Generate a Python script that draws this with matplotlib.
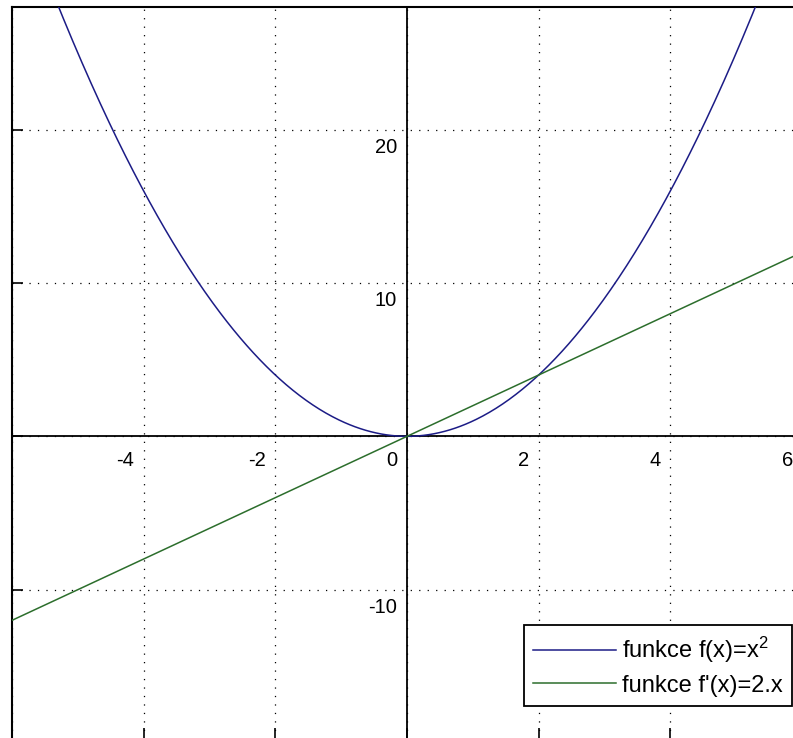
import matplotlib.pyplot as plt
import numpy as np

plt.rcParams['font.family'] = ['Liberation Sans', 'DejaVu Sans']
plt.rcParams['mathtext.default'] = 'regular'
plt.rcParams['lines.scale_dashes'] = False

# osa x, rozsahy a popisky
x_lim = [-6, 6]
y_lim = [-20, 28]
x_ticks = [-6, -4, -2, 0, 2, 4, 6]
y_ticks = [-20, -10, 0, 10, 20]
x_labels = ['-4', '-2', '0', '2', '4', '6']
x_label_pos = [-4, -2, 0, 2, 4, 6]
y_labels = ['20', '10', '-10']
y_label_pos = [20, 10, -10]

c_f = '#1c1c86'
c_df = '#2c6e2c'

fig = plt.figure(figsize=(7.93, 7.38), dpi=100)
ax = fig.add_axes([12/793, -5/738, 790/793, 736/738])
ax.set_xlim(x_lim)
ax.set_ylim(y_lim)

x = np.linspace(x_lim[0], x_lim[1], 600)
ax.plot(x, x**2, color=c_f, lw=1.1, label='funkce f(x)=x$^{2}$', zorder=4)
ax.plot(x, 2*x, color=c_df, lw=1.1, label="funkce f'(x)=2.x", zorder=4)

# tečkovaná mřížka
ax.set_xticks(x_ticks)
ax.set_yticks(y_ticks)
ax.grid(True, color='black', linestyle=(0, (0.9, 5.2)), linewidth=0.9, zorder=1)
ax.set_xticklabels([])
ax.set_yticklabels([])
ax.tick_params(axis='y', direction='in', length=8, width=1.2, left=True, right=False)
ax.tick_params(axis='x', direction='in', length=11, width=1.2, bottom=True, top=False)

# osy procházející počátkem
ax.axhline(0, color='black', lw=1.3, zorder=3)
ax.axvline(0, color='black', lw=1.3, zorder=3)

for s in ['left', 'top', 'right', 'bottom']:
    ax.spines[s].set_linewidth(1.5)

# popisky hodnot u os
for xv, lab in zip(x_label_pos, x_labels):
    ax.text(xv - 0.14, -1.55, lab, ha='right', va='center', fontsize=14.5, color='black')
for yv, lab in zip(y_label_pos, y_labels):
    ax.text(-0.15, yv - 1.15, lab, ha='right', va='center', fontsize=14.5, color='black')

leg = ax.legend(loc='lower right', bbox_to_anchor=(792/793, 1 - 706/738),
                bbox_transform=fig.transFigure, borderaxespad=0,
                fancybox=False, framealpha=1, edgecolor='black',
                fontsize=17, handlelength=3.5, handletextpad=0.25,
                labelspacing=0.4, borderpad=0.4)
leg.get_frame().set_linewidth(1.3)

fig.savefig('out.png', dpi=100)
